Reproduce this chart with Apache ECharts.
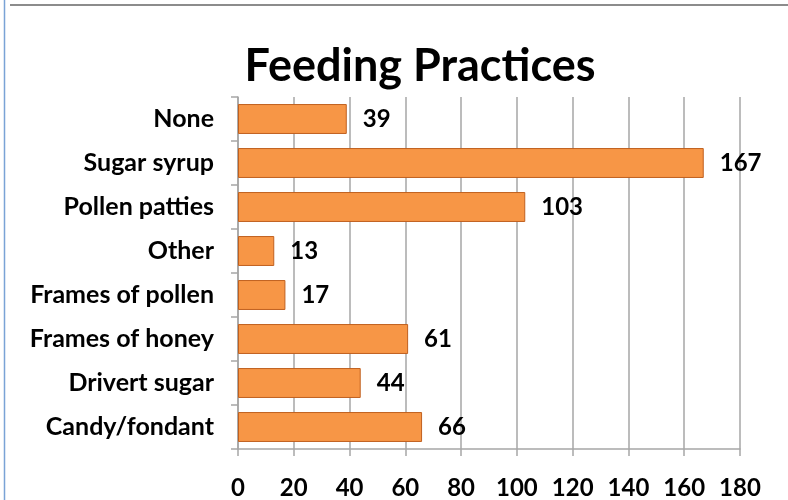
<!DOCTYPE html>
<html><head><meta charset="utf-8">
<script src="https://cdn.jsdelivr.net/npm/echarts@6/dist/echarts.min.js"></script>
<style>html,body{margin:0;padding:0;background:#fff}#c{width:788px;height:500px}</style>
</head><body><div id="c"></div>
<script>
const categories = ["None","Sugar syrup","Pollen patties","Other","Frames of pollen","Frames of honey","Drivert sugar","Candy/fondant"];
const values = [39,167,103,13,17,61,44,66];
const xTicks = [0,20,40,60,80,100,120,140,160,180];

const chart = echarts.init(document.getElementById('c'), null, {renderer:'canvas'});
const font = 'Lato, "Open Sans", sans-serif';
chart.setOption({
  animation:false,
  backgroundColor:'#ffffff',
  title:{text:'Feeding Practices',left:415,top:39,textAlign:'center',
    textStyle:{fontFamily:font,fontWeight:'bold',fontSize:45,color:'#000'}},
  grid:{left:238,right:48,top:97,bottom:50,containLabel:false},
  xAxis:{type:'value',min:xTicks[0],max:xTicks[xTicks.length-1],interval:20,
    axisLine:{show:true,lineStyle:{color:'#a6a6a6',width:1.5}},
    axisTick:{show:true,length:7,lineStyle:{color:'#a6a6a6',width:1.5}},
    splitLine:{show:true,lineStyle:{color:'#a6a6a6',width:1.5}},
    axisLabel:{fontFamily:font,fontWeight:'bold',fontSize:24,color:'#000',margin:27}},
  yAxis:{type:'category',data:categories,inverse:true,
    axisLine:{show:true,lineStyle:{color:'#a6a6a6',width:1.5}},
    axisTick:{show:true,length:7,lineStyle:{color:'#a6a6a6',width:1.5}},
    axisLabel:{fontFamily:font,fontWeight:'bold',fontSize:25,color:'#000',margin:24}},
  series:[{type:'bar',data:values,barCategoryGap:'32%',
    itemStyle:{color:'#f79646',borderColor:'#c0601f',borderWidth:1},
    label:{show:true,position:'right',distance:16,fontFamily:font,fontWeight:'bold',fontSize:24,color:'#000'}}],
  graphic:[
    {type:'line',shape:{x1:10,y1:5,x2:788,y2:5},style:{stroke:'#8c8c8c',lineWidth:2}},
    {type:'line',shape:{x1:4.5,y1:0,x2:4.5,y2:500},style:{stroke:'#7aa3d6',lineWidth:1.5}}
  ]
});
</script></body></html>
